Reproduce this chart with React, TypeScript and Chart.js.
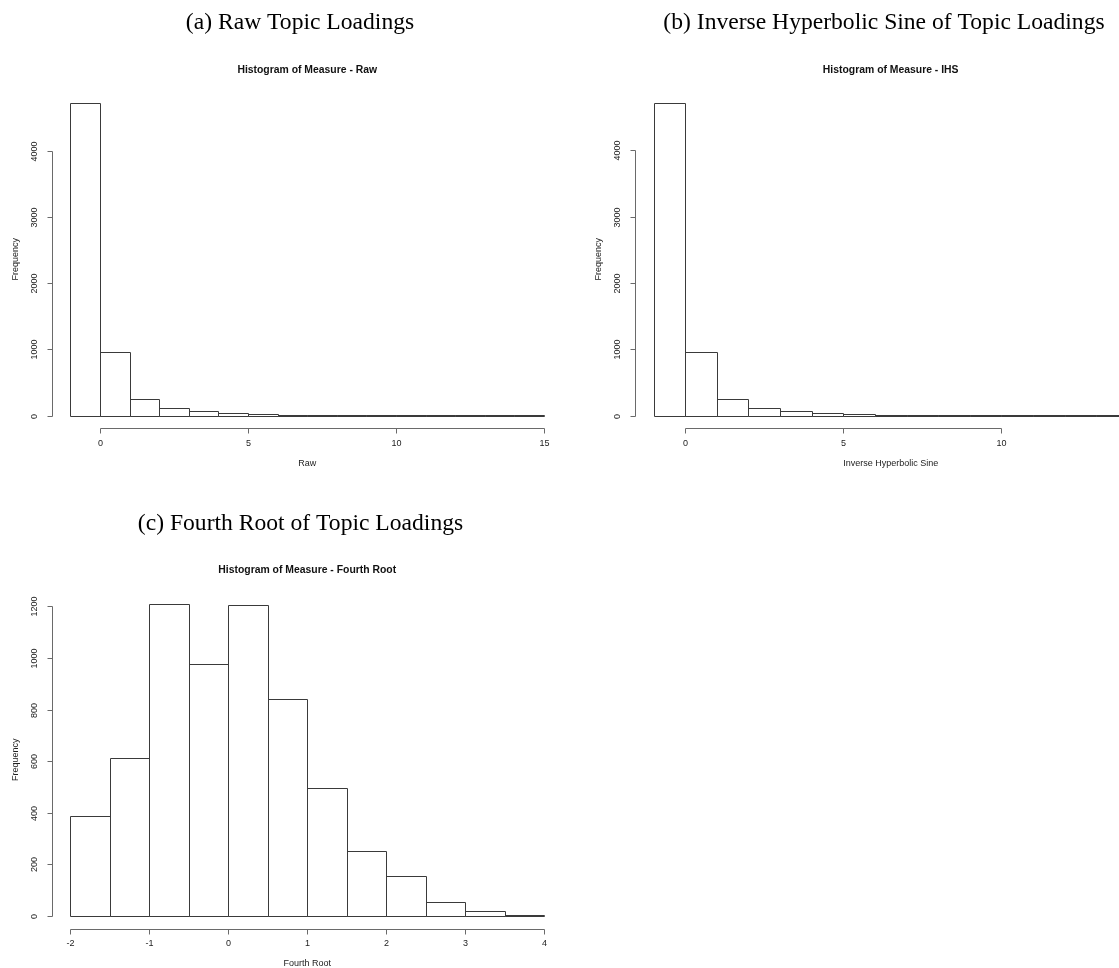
import React, { useEffect, useRef } from "react";
import { Chart, registerables } from "chart.js";

Chart.register(...registerables);

// ---------- DATA ----------
const rawBreaks = [-1, 0, 1, 2, 3, 4, 5, 6, 7, 8, 9, 10, 11, 12, 13, 14, 15];
const rawCounts = [4721, 958, 245, 119, 72, 33, 18, 9, 6, 3, 2, 1, 1, 1, 1, 1];
const rawXTicks = [0, 5, 10, 15];
const rawYTicks = [0, 1000, 2000, 3000, 4000];

const ihsBreaks = [-1, 0, 1, 2, 3, 4, 5, 6, 7, 8, 9, 10, 11, 12, 13, 14];
const ihsCounts = [4715, 953, 252, 112, 75, 32, 20, 10, 6, 3, 2, 1, 1, 1, 1];
const ihsXTicks = [0, 5, 10];
const ihsYTicks = [0, 1000, 2000, 3000, 4000];

const rootBreaks = [-2, -1.5, -1, -0.5, 0, 0.5, 1, 1.5, 2, 2.5, 3, 3.5, 4];
const rootCounts = [388, 614, 1211, 978, 1205, 841, 497, 252, 154, 56, 18, 4];
const rootXTicks = [-2, -1, 0, 1, 2, 3, 4];
const rootYTicks = [0, 200, 400, 600, 800, 1000, 1200];

const headers = [
  "(a) Raw Topic Loadings",
  "(b) Inverse Hyperbolic Sine of Topic Loadings",
  "(c) Fourth Root of Topic Loadings",
];
const titles = [
  "Histogram of Measure - Raw",
  "Histogram of Measure - IHS",
  "Histogram of Measure - Fourth Root",
];
const xLabels = ["Raw", "Inverse Hyperbolic Sine", "Fourth Root"];
const yLabel = "Frequency";

// ---------- LAYOUT ----------
type Layout = {
  canvas: { left: number; top: number; w: number; h: number };
  area: { l: number; r: number; t: number; b: number };
  header: { x: number; y: number };
};

const layouts: Layout[] = [
  {
    canvas: { left: 0, top: 0, w: 600, h: 480 },
    area: { l: 51.5, r: 563, t: 90.5, b: 428 },
    header: { x: 300, y: 29 },
  },
  {
    canvas: { left: 580, top: 0, w: 600, h: 480 },
    area: { l: 634.7, r: 1146.7, t: 90.5, b: 428 },
    header: { x: 884, y: 29 },
  },
  {
    canvas: { left: 0, top: 480, w: 600, h: 488 },
    area: { l: 51.5, r: 563, t: 591, b: 928.5 },
    header: { x: 300.5, y: 529.5 },
  },
];

const SANS = '"Liberation Sans", Arial, Helvetica, sans-serif';
const SERIF = '"Liberation Serif", "Times New Roman", serif';

type PanelProps = {
  breaks: number[];
  counts: number[];
  xTicks: number[];
  yTicks: number[];
  header: string;
  title: string;
  xLabel: string;
  layout: Layout;
};

function Panel(props: PanelProps) {
  const ref = useRef<HTMLCanvasElement | null>(null);
  const { breaks, counts, xTicks, yTicks, header, title, xLabel, layout } = props;

  useEffect(() => {
    const canvas = ref.current;
    if (!canvas) return;
    const c = layout.canvas;
    const a = layout.area;

    const centers = breaks.slice(0, -1).map((b, i) => (b + breaks[i + 1]) / 2);
    const x0 = breaks[0];
    const x1 = breaks[breaks.length - 1];
    const xr = x1 - x0;
    const xmin = x0 - 0.04 * xr;
    const xmax = x1 + 0.04 * xr;
    const ymaxData = Math.max(...counts);
    const ymin = -0.04 * ymaxData;
    const ymax = 1.04 * ymaxData;

    const rPlugin = {
      id: "rstyle" + header.slice(0, 3),
      afterDraw(chart: any) {
        const ctx: CanvasRenderingContext2D = chart.ctx;
        const ca = chart.chartArea;
        const xs = chart.scales.x;
        const ys = chart.scales.y;
        ctx.save();

        // bar outlines (R-style rectangles)
        const meta = chart.getDatasetMeta(0);
        ctx.strokeStyle = "#3a3a3a";
        ctx.lineWidth = 1;
        meta.data.forEach((el: any) => {
          const p = el.getProps(["x", "y", "base", "width"], true);
          const l = Math.round(p.x - p.width / 2) + 0.5;
          const r = Math.round(p.x + p.width / 2) + 0.5;
          const t = Math.round(Math.min(p.y, p.base)) + 0.5;
          const b = Math.round(Math.max(p.y, p.base)) + 0.5;
          ctx.beginPath();
          ctx.moveTo(l, b);
          ctx.lineTo(r, b);
          ctx.moveTo(l, b);
          ctx.lineTo(l, t);
          ctx.lineTo(r, t);
          ctx.lineTo(r, b);
          ctx.stroke();
        });

        // axes
        ctx.strokeStyle = "#6a6a6a";
        ctx.fillStyle = "#222";
        ctx.font = `9px ${SANS}`;

        // x axis
        const xIn = xTicks.filter((v) => v >= xs.min && v <= xs.max);
        const axY = Math.round(ca.bottom) + 0.5;
        const xp = xIn.map((v) => Math.round(xs.getPixelForValue(v)) + 0.5);
        ctx.beginPath();
        ctx.moveTo(xp[0], axY);
        ctx.lineTo(xp[xp.length - 1], axY);
        xp.forEach((px) => {
          ctx.moveTo(px, axY);
          ctx.lineTo(px, axY + 5);
        });
        ctx.stroke();
        ctx.textAlign = "center";
        ctx.textBaseline = "middle";
        xIn.forEach((v, i) => {
          ctx.fillText(String(v), xp[i], ca.bottom + 15.5);
        });
        ctx.fillText(xLabel, (ca.left + ca.right) / 2, ca.bottom + 35.5);

        // y axis
        const axX = Math.round(ca.left) + 0.5;
        const yp = yTicks.map((v) => Math.round(ys.getPixelForValue(v)) + 0.5);
        ctx.beginPath();
        ctx.moveTo(axX, yp[0]);
        ctx.lineTo(axX, yp[yp.length - 1]);
        yp.forEach((py) => {
          ctx.moveTo(axX, py);
          ctx.lineTo(axX - 5, py);
        });
        ctx.stroke();
        yTicks.forEach((v, i) => {
          ctx.save();
          ctx.translate(ca.left - 17, yp[i]);
          ctx.rotate(-Math.PI / 2);
          ctx.fillText(String(v), 0, 0);
          ctx.restore();
        });
        ctx.save();
        ctx.translate(ca.left - 36, (ca.top + ca.bottom) / 2);
        ctx.rotate(-Math.PI / 2);
        ctx.fillText(yLabel, 0, 0);
        ctx.restore();

        // main title
        ctx.fillStyle = "#111";
        ctx.font = `bold 10.4px ${SANS}`;
        ctx.fillText(title, (ca.left + ca.right) / 2, ca.top - 20.5);

        // panel header
        ctx.fillStyle = "#000";
        ctx.font = `23.6px ${SERIF}`;
        ctx.textBaseline = "alphabetic";
        ctx.fillText(header, layout.header.x - c.left, layout.header.y - c.top);

        ctx.restore();
      },
    };

    const chart = new Chart(canvas, {
      type: "bar",
      data: {
        datasets: [
          {
            data: centers.map((cx, i) => ({ x: cx, y: counts[i] })),
            backgroundColor: "#ffffff",
            borderWidth: 0,
            barPercentage: 1,
            categoryPercentage: 1,
          } as any,
        ],
      },
      options: {
        animation: false,
        responsive: false,
        devicePixelRatio: 1,
        events: [],
        layout: {
          padding: {
            left: a.l - c.left,
            right: c.left + c.w - a.r,
            top: a.t - c.top,
            bottom: c.top + c.h - a.b,
          },
        },
        plugins: {
          legend: { display: false },
          tooltip: { enabled: false },
          title: { display: false },
        },
        scales: {
          x: {
            type: "linear",
            min: xmin,
            max: xmax,
            offset: false,
            display: false,
            afterBuildTicks: (s: any) => {
              s.ticks = xTicks.map((v) => ({ value: v }));
            },
          },
          y: {
            type: "linear",
            min: ymin,
            max: ymax,
            display: false,
            afterBuildTicks: (s: any) => {
              s.ticks = yTicks.map((v) => ({ value: v }));
            },
          },
        },
      } as any,
      plugins: [rPlugin],
    });

    return () => chart.destroy();
  }, []);

  const c = layout.canvas;
  return (
    <canvas
      ref={ref}
      width={c.w}
      height={c.h}
      style={{
        position: "absolute",
        left: c.left,
        top: c.top,
        width: c.w,
        height: c.h,
        display: "block",
      }}
    />
  );
}

export default function App() {
  return (
    <div
      style={{
        position: "absolute",
        left: 0,
        top: 0,
        width: 1119,
        height: 968,
        overflow: "hidden",
        background: "#ffffff",
      }}
    >
      <Panel
        breaks={rawBreaks}
        counts={rawCounts}
        xTicks={rawXTicks}
        yTicks={rawYTicks}
        header={headers[0]}
        title={titles[0]}
        xLabel={xLabels[0]}
        layout={layouts[0]}
      />
      <Panel
        breaks={ihsBreaks}
        counts={ihsCounts}
        xTicks={ihsXTicks}
        yTicks={ihsYTicks}
        header={headers[1]}
        title={titles[1]}
        xLabel={xLabels[1]}
        layout={layouts[1]}
      />
      <Panel
        breaks={rootBreaks}
        counts={rootCounts}
        xTicks={rootXTicks}
        yTicks={rootYTicks}
        header={headers[2]}
        title={titles[2]}
        xLabel={xLabels[2]}
        layout={layouts[2]}
      />
    </div>
  );
}
